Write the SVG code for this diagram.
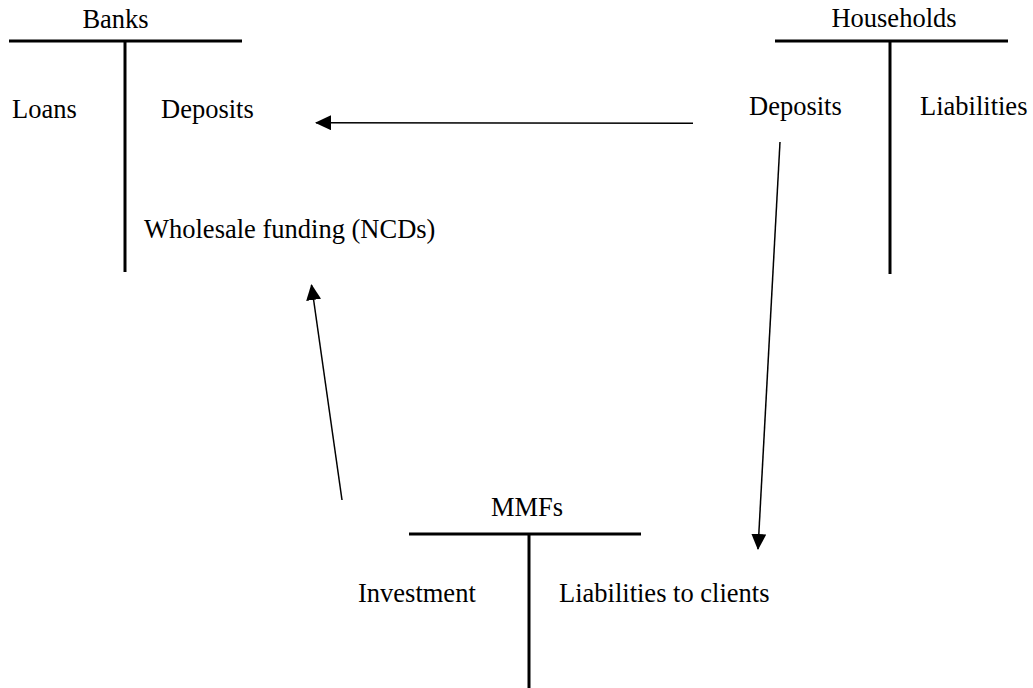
<svg xmlns="http://www.w3.org/2000/svg" width="1033" height="688" viewBox="0 0 1033 688">
<style>
text{font-family:"Liberation Serif","Times New Roman",serif;font-size:26.5px;fill:#000}
.t{stroke:#000;stroke-width:3;fill:none}
.a{stroke:#000;stroke-width:1.5;fill:none;marker-end:url(#ah)}
</style>
<defs>
<marker id="ah" markerUnits="userSpaceOnUse" markerWidth="16" markerHeight="15" refX="15" refY="7.5" orient="auto">
<path d="M0,0 L16,7.5 L0,15 Z" fill="#000"/>
</marker>
</defs>
<rect width="1033" height="688" fill="#fff"/>
<g id="banks">
<line class="t" x1="9" y1="41" x2="242" y2="41"/>
<line class="t" x1="125" y1="41" x2="125" y2="272"/>
<text x="115.5" y="28" text-anchor="middle">Banks</text>
<text x="12" y="118">Loans</text>
<text x="161" y="118">Deposits</text>
<text x="144" y="238">Wholesale funding (NCDs)</text>
</g>
<g id="households">
<line class="t" x1="775" y1="41" x2="1008" y2="41"/>
<line class="t" x1="890" y1="41" x2="890" y2="274"/>
<text x="894" y="27" text-anchor="middle">Households</text>
<text x="749" y="115">Deposits</text>
<text x="920" y="115">Liabilities</text>
</g>
<g id="mmfs">
<line class="t" x1="409" y1="534" x2="641" y2="534"/>
<line class="t" x1="529" y1="534" x2="529" y2="688"/>
<text x="527" y="516" text-anchor="middle">MMFs</text>
<text x="358" y="602">Investment</text>
<text x="559" y="602">Liabilities to clients</text>
</g>
<g id="connectors">
<line class="a" x1="693" y1="123.3" x2="316" y2="122.7"/>
<line class="a" x1="780" y1="142" x2="758" y2="549"/>
<line class="a" x1="342" y1="500" x2="311.5" y2="285"/>
</g>
</svg>
